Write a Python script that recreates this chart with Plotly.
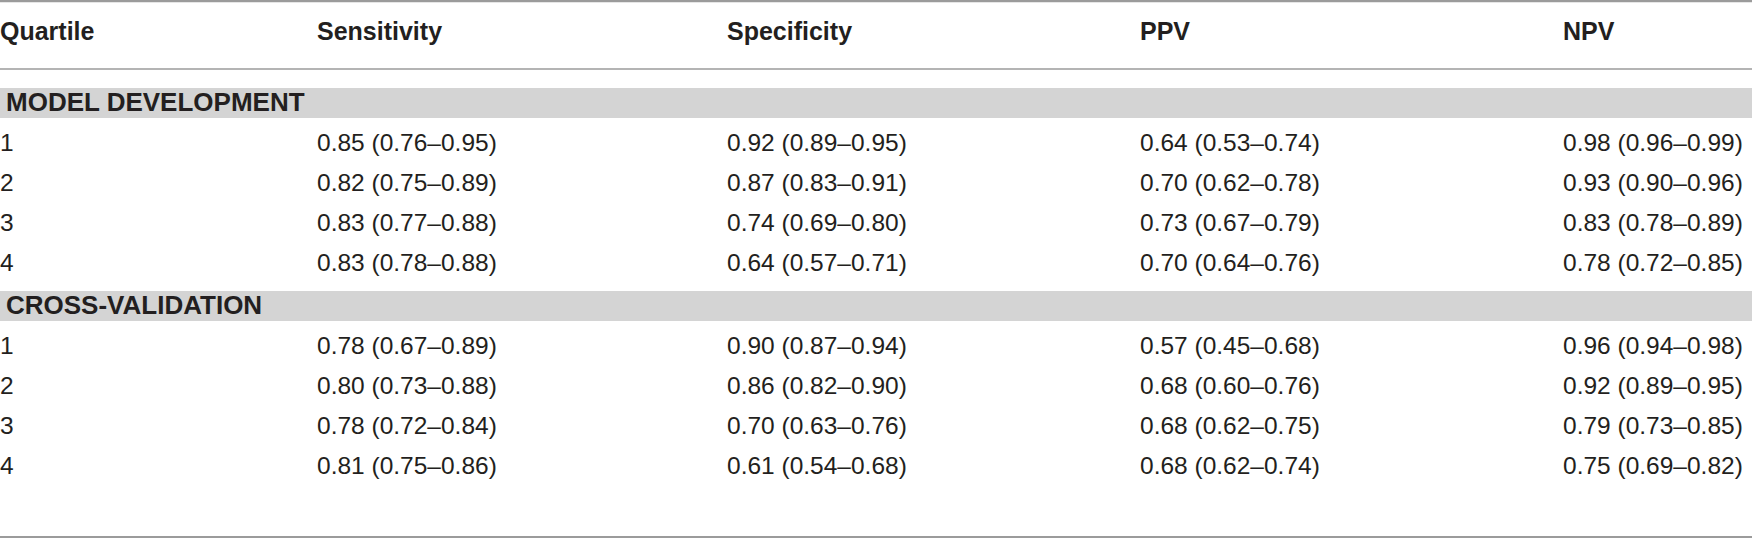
import plotly.graph_objects as go

# ---- data ----
columns = ["Quartile", "Sensitivity", "Specificity", "PPV", "NPV"]
groups = ["MODEL DEVELOPMENT", "CROSS-VALIDATION"]
quartiles = ["1", "2", "3", "4"]

dev_sensitivity = ["0.85 (0.76–0.95)", "0.82 (0.75–0.89)", "0.83 (0.77–0.88)", "0.83 (0.78–0.88)"]
dev_specificity = ["0.92 (0.89–0.95)", "0.87 (0.83–0.91)", "0.74 (0.69–0.80)", "0.64 (0.57–0.71)"]
dev_ppv = ["0.64 (0.53–0.74)", "0.70 (0.62–0.78)", "0.73 (0.67–0.79)", "0.70 (0.64–0.76)"]
dev_npv = ["0.98 (0.96–0.99)", "0.93 (0.90–0.96)", "0.83 (0.78–0.89)", "0.78 (0.72–0.85)"]

cv_sensitivity = ["0.78 (0.67–0.89)", "0.80 (0.73–0.88)", "0.78 (0.72–0.84)", "0.81 (0.75–0.86)"]
cv_specificity = ["0.90 (0.87–0.94)", "0.86 (0.82–0.90)", "0.70 (0.63–0.76)", "0.61 (0.54–0.68)"]
cv_ppv = ["0.57 (0.45–0.68)", "0.68 (0.60–0.76)", "0.68 (0.62–0.75)", "0.68 (0.62–0.74)"]
cv_npv = ["0.96 (0.94–0.98)", "0.92 (0.89–0.95)", "0.79 (0.73–0.85)", "0.75 (0.69–0.82)"]

group_data = [
    [dev_sensitivity, dev_specificity, dev_ppv, dev_npv],
    [cv_sensitivity, cv_specificity, cv_ppv, cv_npv],
]

# ---- layout constants ----
W, H = 1752, 539
col_x = [0, 317, 727, 1140, 1563]
header_y = 34
band_y = [103, 306]
band_half = 15
row_step = 40
first_row_offset = 42
TXT = "#231f20"
BAND = "#d4d4d4"
RULE = "#9b9b9b"
REG_FONT = "Liberation Sans, Arial, sans-serif"
BOLD_FONT = "Liberation Sans, Arial, sans-serif"

fig = go.Figure()

# header
fig.add_trace(go.Scatter(
    x=col_x, y=[header_y] * len(columns), mode="text",
    text=["<b>%s</b>" % c for c in columns], textposition="middle right",
    textfont=dict(family=BOLD_FONT, size=25, color=TXT),
    hoverinfo="skip", showlegend=False, cliponaxis=False))

shapes = [
    dict(type="line", xref="x", yref="y", x0=0, x1=W, y0=1, y1=1, line=dict(color=RULE, width=2.5)),
    dict(type="line", xref="x", yref="y", x0=0, x1=W, y0=69, y1=69, line=dict(color=RULE, width=1.5)),
    dict(type="line", xref="x", yref="y", x0=0, x1=W, y0=537, y1=537, line=dict(color=RULE, width=2)),
]

for g, name in enumerate(groups):
    by = band_y[g]
    shapes.append(dict(type="rect", xref="x", yref="y", x0=0, x1=W,
                       y0=by - band_half, y1=by + band_half,
                       fillcolor=BAND, line=dict(width=0), layer="below"))
    fig.add_trace(go.Scatter(
        x=[6], y=[by + 1], mode="text", text=["<b>%s</b>" % name],
        textposition="middle right",
        textfont=dict(family=BOLD_FONT, size=26, color=TXT),
        hoverinfo="skip", showlegend=False, cliponaxis=False))
    ys = [by + first_row_offset + row_step * i for i in range(len(quartiles))]
    fig.add_trace(go.Scatter(
        x=[col_x[0]] * len(quartiles), y=ys, mode="text", text=quartiles,
        textposition="middle right",
        textfont=dict(family=REG_FONT, size=24.5, color=TXT),
        hoverinfo="skip", showlegend=False, cliponaxis=False))
    for c, vals in enumerate(group_data[g]):
        fig.add_trace(go.Scatter(
            x=[col_x[c + 1]] * len(vals), y=ys, mode="text", text=vals,
            textposition="middle right",
            textfont=dict(family=REG_FONT, size=24.5, color=TXT),
            hoverinfo="skip", showlegend=False, cliponaxis=False))

fig.update_layout(
    width=W, height=H,
    margin=dict(l=0, r=0, t=0, b=0),
    paper_bgcolor="white", plot_bgcolor="white",
    shapes=shapes,
    xaxis=dict(range=[0, W], visible=False, fixedrange=True),
    yaxis=dict(range=[H, 0], visible=False, fixedrange=True),
)

fig.write_html("out.html", config={"displayModeBar": False},
               post_script="document.body.style.margin='0px';document.body.style.overflow='hidden';")
